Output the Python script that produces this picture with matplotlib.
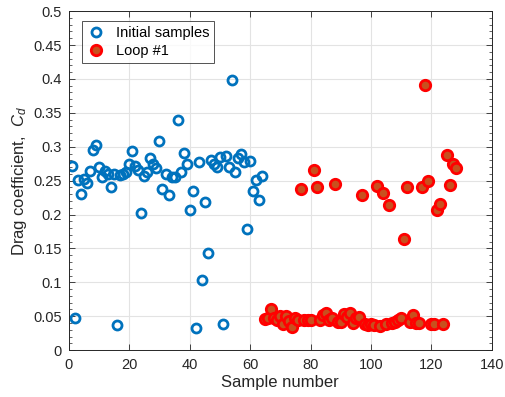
"""Drag coefficient per sample: initial samples vs loop #1."""

import matplotlib
matplotlib.use("Agg")
import matplotlib.pyplot as plt
from matplotlib.ticker import AutoMinorLocator, MultipleLocator, FuncFormatter

plt.rcParams["font.family"] = ["Liberation Sans", "DejaVu Sans"]
plt.rcParams["mathtext.fontset"] = "custom"
plt.rcParams["mathtext.it"] = "Liberation Sans:italic"
plt.rcParams["mathtext.rm"] = "Liberation Sans"

# initial samples, sample numbers 1..64
initial_x = list(range(1, 65))
initial_cd = [
    0.272, 0.047, 0.251, 0.230, 0.253, 0.247, 0.264, 0.295, 0.303, 0.270,
    0.256, 0.264, 0.260, 0.241, 0.260, 0.037, 0.259, 0.260, 0.262, 0.275,
    0.293, 0.272, 0.265, 0.202, 0.257, 0.263, 0.284, 0.274, 0.268, 0.308,
    0.237, 0.260, 0.229, 0.255, 0.256, 0.340, 0.262, 0.291, 0.274, 0.207,
    0.234, 0.033, 0.277, 0.104, 0.218, 0.144, 0.280, 0.274, 0.270, 0.285,
    0.039, 0.287, 0.270, 0.398, 0.263, 0.284, 0.289, 0.277, 0.178, 0.279,
    0.234, 0.251, 0.221, 0.257,
]

# loop #1, sample numbers 65..128
loop1_x = list(range(65, 129))
loop1_cd = [
    0.046, 0.048, 0.060, 0.047, 0.045, 0.050, 0.039, 0.050, 0.043, 0.034,
    0.048, 0.045, 0.238, 0.044, 0.044, 0.044, 0.266, 0.240, 0.045, 0.052,
    0.055, 0.044, 0.048, 0.245, 0.042, 0.042, 0.054, 0.049, 0.055, 0.040,
    0.048, 0.049, 0.229, 0.038, 0.037, 0.039, 0.037, 0.242, 0.035, 0.232,
    0.038, 0.214, 0.040, 0.041, 0.044, 0.047, 0.164, 0.240, 0.042, 0.052,
    0.040, 0.040, 0.240, 0.391, 0.250, 0.038, 0.038, 0.206, 0.216, 0.038,
    0.288, 0.244, 0.275, 0.268,
]

x_ticks = list(range(0, 141, 20))


def fmt_y(v, _pos):
    return f"{v:.2f}".rstrip("0").rstrip(".")


fig = plt.figure(figsize=(5.06, 3.97), dpi=100)
ax = fig.add_axes([0.136, 0.118, 0.836, 0.854])

ax.plot(initial_x, initial_cd, linestyle="none", marker="o", markersize=6.5,
        markerfacecolor="none", markeredgecolor="#0072BD", markeredgewidth=2.0,
        label="Initial samples")
ax.plot(loop1_x, loop1_cd, linestyle="none", marker="o", markersize=7.5,
        markerfacecolor="#C8501E", markeredgecolor="#FF0000", markeredgewidth=2.0,
        label="Loop #1")

ax.set_xlim(0, 140)
ax.set_ylim(0, 0.5)
ax.set_xticks(x_ticks)
ax.yaxis.set_major_locator(MultipleLocator(0.05))
ax.yaxis.set_major_formatter(FuncFormatter(fmt_y))
ax.yaxis.set_minor_locator(AutoMinorLocator(5))

ax.grid(True, which="major", color="#e3e3e3", linewidth=0.8)
ax.set_axisbelow(True)
ax.tick_params(which="both", direction="in", top=True, right=True,
               colors="#262626", labelsize=10.5)
ax.tick_params(which="major", length=4, width=0.6)
ax.tick_params(which="minor", length=2.5, width=0.5)
ax.tick_params(axis="x", which="major", pad=6)
ax.tick_params(axis="y", which="major", pad=5)
for s in ax.spines.values():
    s.set_color("#262626")
    s.set_linewidth(0.7)

ax.set_xlabel("Sample number", fontsize=12, color="#262626", labelpad=2)
ax.set_ylabel("Drag coefficient,  $C_d$", fontsize=12, color="#262626", labelpad=3)

leg = ax.legend(loc="upper left", bbox_to_anchor=(0.03, 0.97), fontsize=10.5,
                frameon=True, fancybox=False, borderpad=0.35, handlelength=1.3,
                handletextpad=0.7, labelspacing=0.25, borderaxespad=0.0)
leg.get_frame().set_edgecolor("#262626")
leg.get_frame().set_linewidth(0.7)

fig.savefig("out.png", dpi=100)
